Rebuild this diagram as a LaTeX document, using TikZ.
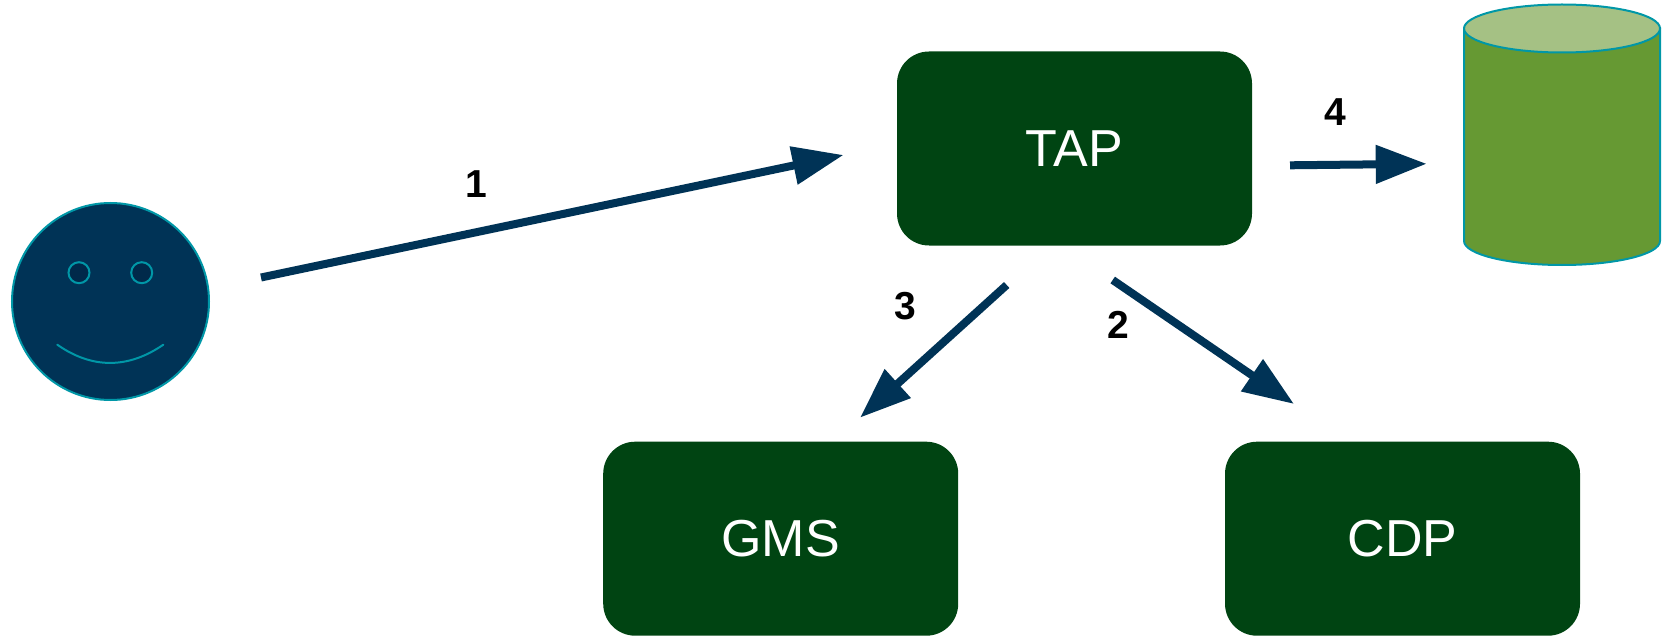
\documentclass[tikz,border=0pt]{standalone}
\usepackage{fontspec}
\setmainfont{Liberation Sans}
\usetikzlibrary{arrows.meta}
\definecolor{boxgreen}{HTML}{004412}
\definecolor{navy}{HTML}{003356}
\definecolor{eyefill}{HTML}{00294A}
\definecolor{teal}{HTML}{0097A7}
\definecolor{cylside}{HTML}{669933}
\definecolor{cyltop}{HTML}{A5C184}
\tikzset{
  box/.style={fill=boxgreen,rounded corners=16pt,minimum width=177.5pt,minimum height=97pt,inner sep=0pt,text=white,font=\fontsize{26}{30}\selectfont},
  conn/.style={draw=navy,line width=4pt,-{Triangle[length=25.5pt,width=18.5pt,fill=navy]}},
  numlabel/.style={inner sep=0pt,font=\fontsize{19.5}{23}\selectfont\bfseries},
  outline/.style={draw=teal,line width=1pt}
}
\begin{document}
\begin{tikzpicture}[x=0.5pt,y=-0.5pt]
\useasboundingbox (0,0) rectangle (1668,636);
% boxes
\node[box] (tap) at (1074.5,148.5) {TAP};
\node[box] (gms) at (780.7,538.7) {GMS};
\node[box] (cdp) at (1402.5,538.7) {CDP};
% smiley
\draw[outline,fill=navy] (110.5,301.5) circle[radius=98.5];
\draw[outline,fill=eyefill] (79,272.7) circle[radius=10.5];
\draw[outline,fill=eyefill] (141.7,272.7) circle[radius=10.5];
\draw[outline,line cap=round] (57.3,344.7) .. controls (92,369) and (128,369) .. (163.3,344.7);
% cylinder
\draw[outline,fill=cylside] (1464,28.5) -- (1464,241) arc[x radius=98,y radius=24,start angle=180,end angle=0] -- (1660,28.5) -- cycle;
\draw[outline,fill=cyltop] (1562,28.5) ellipse[x radius=98,y radius=24];
% connector ends
\coordinate (a1s) at (261,277.5);
\coordinate (a1e) at (843.5,155);
\coordinate (a2s) at (1112.7,280);
\coordinate (a2e) at (1294,404);
\coordinate (a3s) at (1006.7,285);
\coordinate (a3e) at (860,417.7);
\coordinate (a4s) at (1290,165.3);
\coordinate (a4e) at (1426.7,163.8);
\draw[conn] (a1s) -- (a1e);
\draw[conn] (a2s) -- (a2e);
\draw[conn] (a3s) -- (a3e);
\draw[conn] (a4s) -- (a4e);
% labels
\node[numlabel] (l1) at (476,184) {1};
\node[numlabel] (l2) at (1118,325) {2};
\node[numlabel] (l3) at (905,306) {3};
\node[numlabel] (l4) at (1335,112.5) {4};
\end{tikzpicture}
\end{document}
